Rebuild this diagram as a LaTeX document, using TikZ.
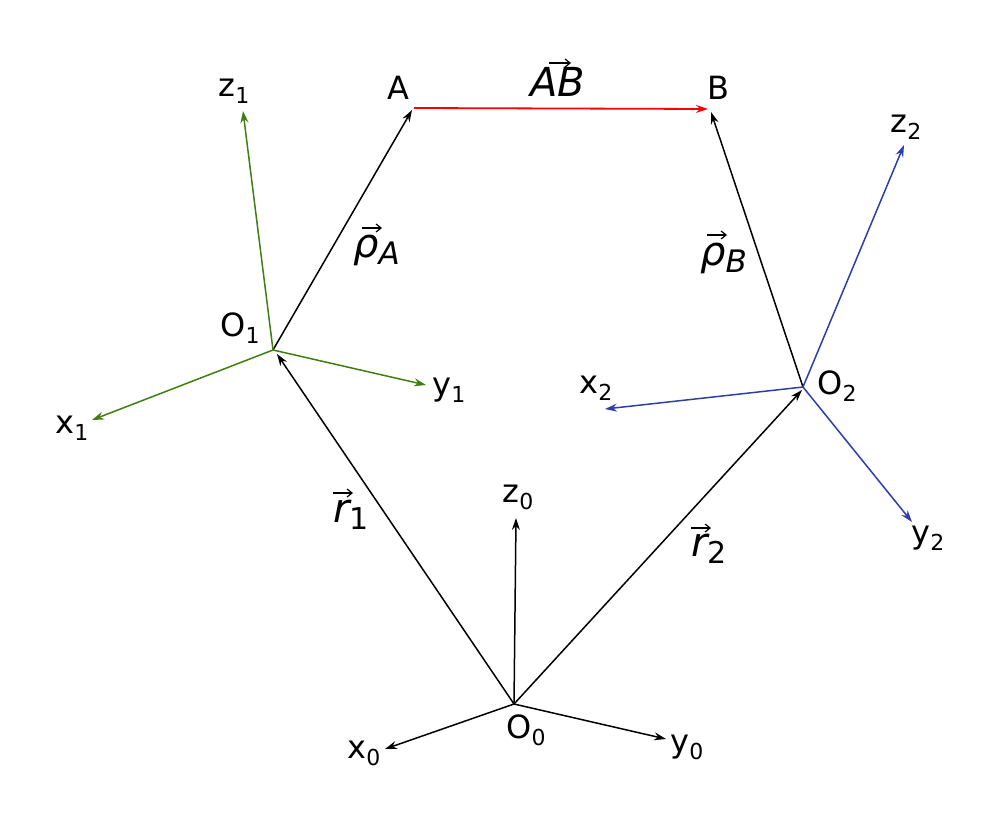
\documentclass[tikz,border=0pt]{standalone}
\usepackage{fontspec}
\setmainfont{DejaVu Sans}
\usetikzlibrary{arrows.meta}
\definecolor{frameg}{HTML}{3F7F10}
\definecolor{frameb}{HTML}{2F3DA8}
\newcommand{\subnum}[1]{\raisebox{-7pt}{\fontsize{22}{24}\selectfont #1}}
\newcommand{\subital}[1]{\raisebox{-7pt}{\fontsize{31}{34}\selectfont\itshape #1}}
\newcommand{\subbig}[1]{\raisebox{-7pt}{\fontsize{30}{34}\selectfont\upshape #1}}
\tikzset{
  lab/.style={inner sep=0pt,font=\fontsize{32}{38}\selectfont,text=black},
  big/.style={inner sep=0pt,font=\fontsize{40}{46}\selectfont\itshape,text=black,anchor=base west},
  vec/.style={line width=1.5pt,-{Stealth[length=12pt,width=8pt,inset=4pt]}},
  gvec/.style={vec,draw=frameg},
  bvec/.style={vec,draw=frameb},
  rvec/.style={vec,draw=red,line width=1.8pt},
  over/.style={line width=1.2pt,-{Straight Barb[length=5pt,width=8pt]}},
}
\begin{document}
\begin{tikzpicture}[x=1pt,y=-1pt]
\useasboundingbox (0,0) rectangle (1000,824);
\fill[white] (0,0) rectangle (1000,824);
\coordinate (O0) at (514,704);
\coordinate (O1) at (273,350);
\coordinate (O2) at (803,387);
\coordinate (O1t) at (277,354);
\coordinate (O2t) at (802,390);
\coordinate (At) at (412,110);
\coordinate (As) at (414,108);
\coordinate (Bt) at (708,109);
\coordinate (Bb) at (711,112);
\coordinate (x0t) at (385,749);
\coordinate (y0t) at (666,739);
\coordinate (z0t) at (516,518);
\coordinate (x1t) at (92,420);
\coordinate (y1t) at (426,385);
\coordinate (z1t) at (243,111);
\coordinate (x2t) at (605,409);
\coordinate (y2t) at (912,522);
\coordinate (z2t) at (904,145);
\draw[vec] (O0) -- (O1t);
\draw[vec] (O0) -- (O2t);
\draw[vec] (O0) -- (x0t);
\draw[vec] (O0) -- (y0t);
\draw[vec] (O0) -- (z0t);
\draw[vec] (O1) -- (At);
\draw[vec] (O2) -- (Bb);
\draw[gvec] (O1) -- (x1t);
\draw[gvec] (O1) -- (y1t);
\draw[gvec] (O1) -- (z1t);
\draw[bvec] (O2) -- (x2t);
\draw[bvec] (O2) -- (y2t);
\draw[bvec] (O2) -- (z2t);
\draw[rvec] (As) -- (Bt);
\node[lab] (A) at (398,88) {A};
\node[lab] (B) at (718,88) {B};
\node[lab] (lz1) at (234,91) {z\subnum{1}};
\node[lab] (lx1) at (72,428) {x\subnum{1}};
\node[lab] (ly1) at (449,390) {y\subnum{1}};
\node[lab] (lO1) at (240,328) {O\subnum{1}};
\node[lab] (lx2) at (596,388) {x\subnum{2}};
\node[lab] (lO2) at (837,386) {O\subnum{2}};
\node[lab] (lz2) at (906,127) {z\subnum{2}};
\node[lab] (ly2) at (928,538) {y\subnum{2}};
\node[lab] (lz0) at (518,497) {z\subnum{0}};
\node[lab] (lO0) at (526,730) {O\subnum{0}};
\node[lab] (lx0) at (364,753) {x\subnum{0}};
\node[lab] (ly0) at (687,747) {y\subnum{0}};
\node[big] (lAB) at (530,97) {AB};
\node[big] (lrA) at (353,257) {ρ\subital{A}};
\node[big] (lrB) at (700,265) {ρ\subital{B}};
\node[big] (lr1) at (333,522) {r\subbig{1}};
\node[big] (lr2) at (691,556) {r\subbig{2}};
\coordinate (abL) at (549,63);  \coordinate (abR) at (571,63);
\coordinate (raL) at (362,228); \coordinate (raR) at (382,228);
\coordinate (rbL) at (707,235); \coordinate (rbR) at (727,235);
\coordinate (r1L) at (333,493); \coordinate (r1R) at (353,493);
\coordinate (r2L) at (691,528); \coordinate (r2R) at (711,528);
\draw[over] (abL) -- (abR);
\draw[over] (raL) -- (raR);
\draw[over] (rbL) -- (rbR);
\draw[over] (r1L) -- (r1R);
\draw[over] (r2L) -- (r2R);
\end{tikzpicture}
\end{document}
